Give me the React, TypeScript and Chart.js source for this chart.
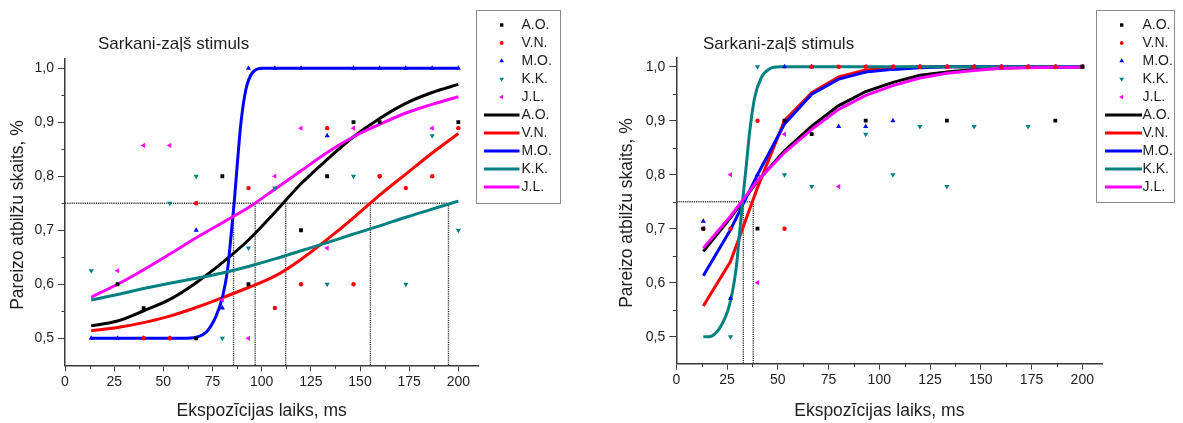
import React, { useEffect, useRef } from "react";
import { Chart, registerables } from "chart.js";
import { drawPoint } from "chart.js/helpers";

Chart.register(...registerables);

const FONT = "'Liberation Sans', Arial, sans-serif";
const TEXT_COLOR = "#1e1e1e";
const AXIS_COLOR = "#3a3a3a";

// ---------- shared ----------
const X_VALUES = [13.3, 26.7, 40, 53.3, 66.7, 80, 93.3, 106.7, 120, 133.3, 146.7, 160, 173.3, 186.7, 200];
const NAMES = ["A.O.", "V.N.", "M.O.", "K.K.", "J.L."];
const COLORS = ["#000000", "#ff0000", "#0000ff", "#008080", "#ff00ff"];
const POINT_STYLES = ["rect", "circle", "triangle", "triangle", "triangle"];
const POINT_ROTATIONS = [0, 0, 0, 180, -90];
const POINT_RADII = [2.7, 2.2, 3, 3, 3];
const X_TICK_STEP = 25;
const Y_TICK_STEP = 0.1;
const X_MIN = 0;
const X_MAX = 210;
const Y_MIN = 0.45;
const Y_MAX = 1.017;
const THRESHOLD_LEVEL = 0.75;
const TITLE = "Sarkani-zaļš stimuls";
const X_TITLE = "Ekspozīcijas laiks, ms";
const Y_TITLE = "Pareizo atbilžu skaits, %";

// ---------- left panel: observed ----------
const L_OBS_AO = [null, 0.6, 0.556, null, 0.5, 0.8, 0.6, null, 0.7, 0.8, 0.9, 0.9, null, null, 0.9];
const L_OBS_VN = [null, null, 0.5, 0.5, 0.75, null, 0.778, 0.556, 0.6, 0.889, 0.6, 0.8, 0.778, 0.8, 0.889];
const L_OBS_MO = [0.5, 0.5, 0.5, 0.5, 0.7, 0.556, 1.0, 1.0, 1.0, 0.875, 1.0, 1.0, 1.0, 1.0, 1.0];
const L_OBS_KK = [0.625, null, null, 0.75, 0.8, 0.5, 0.667, 0.778, null, 0.6, 0.8, 0.8, 0.6, 0.875, 0.7];
const L_OBS_JL = [null, 0.625, 0.857, 0.857, 0.75, 0.571, 0.5, 0.8, 0.889, 0.667, 0.889, null, null, 0.889, null];

// ---------- left panel: fitted curves ----------
const L_FIT_AO = [0.523, 0.532, 0.551, 0.572, 0.603, 0.64, 0.682, 0.733, 0.786, 0.831, 0.873, 0.907, 0.935, 0.955, 0.97];
const L_FIT_VN = [0.514, 0.52, 0.529, 0.541, 0.557, 0.575, 0.594, 0.615, 0.646, 0.683, 0.723, 0.765, 0.804, 0.843, 0.879];
const L_FIT_MO_X = [13.3, 40, 60, 66.7, 72, 76.8, 80.2, 82.7, 84.4, 86, 87.8, 89.5, 92, 95.4, 100.4, 120, 200];
const L_FIT_MO_Y = [0.5, 0.5, 0.5, 0.502, 0.512, 0.541, 0.578, 0.628, 0.689, 0.75, 0.831, 0.9, 0.961, 0.992, 1.0, 1.0, 1.0];
const L_FIT_KK = [0.571, 0.581, 0.592, 0.602, 0.611, 0.621, 0.633, 0.647, 0.662, 0.677, 0.693, 0.708, 0.724, 0.739, 0.754];
const L_FIT_JL = [0.576, 0.6, 0.627, 0.656, 0.686, 0.714, 0.742, 0.776, 0.81, 0.844, 0.873, 0.896, 0.917, 0.933, 0.947];
const L_THRESHOLDS = [85.7, 96.7, 112.2, 155.3, 195];

// ---------- right panel: observed ----------
const R_OBS_AO = [0.7, null, 0.7, 0.9, 0.875, null, 0.9, null, null, 0.9, null, null, null, 0.9, 1.0];
const R_OBS_VN = [0.7, 0.7, 0.9, 0.7, 1.0, 1.0, 1.0, 1.0, 1.0, 1.0, 1.0, 1.0, 1.0, 1.0, 1.0];
const R_OBS_MO = [0.714, 0.571, 0.8, 1.0, 1.0, 0.889, 0.889, 0.9, 1.0, 1.0, 1.0, 1.0, 1.0, 1.0, 1.0];
const R_OBS_KK = [null, 0.5, 1.0, 0.8, 0.778, null, 0.875, 0.8, 0.889, 0.778, 0.889, null, 0.889, null, 1.0];
const R_OBS_JL = [0.7, 0.8, 0.6, 0.875, null, 0.778, 1.0, 1.0, 1.0, 1.0, 1.0, 1.0, 1.0, 1.0, 1.0];

// ---------- right panel: fitted curves ----------
const R_FIT_AO = [0.658, 0.72, 0.788, 0.844, 0.89, 0.928, 0.954, 0.971, 0.984, 0.99, 0.995, 0.997, 0.999, 0.999, 1.0];
const R_FIT_VN = [0.557, 0.639, 0.776, 0.9, 0.952, 0.981, 0.994, 0.998, 1.0, 1.0, 1.0, 1.0, 1.0, 1.0, 1.0];
const R_FIT_MO = [0.613, 0.698, 0.8, 0.894, 0.949, 0.977, 0.99, 0.995, 0.998, 1.0, 1.0, 1.0, 1.0, 1.0, 1.0];
const R_FIT_KK_X = [13.3, 16, 21.2, 26.2, 29.5, 31.1, 32.5, 34.2, 36.2, 38.6, 41.9, 46, 51, 200];
const R_FIT_KK_Y = [0.5, 0.5, 0.515, 0.559, 0.627, 0.689, 0.745, 0.807, 0.881, 0.943, 0.98, 0.996, 1.0, 1.0];
const R_FIT_JL = [0.664, 0.723, 0.789, 0.841, 0.884, 0.921, 0.947, 0.965, 0.979, 0.988, 0.993, 0.997, 0.998, 0.999, 0.999];
const R_THRESHOLDS = [33.0, 37.9];

const HEIGHT = 423;

type Area = { left: number; right: number; top: number; bottom: number };

const zip = (xs: number[], ys: (number | null)[]) =>
  xs.map((x, i) => ({ x, y: ys[i] })).filter((p) => p.y !== null);

// ---------- plugins ----------
const minorTicksPlugin = {
  id: "minorTicks",
  afterDraw(chart: any, _a: any, opts: any) {
    const { ctx } = chart;
    const xs = chart.scales.x;
    const ys = chart.scales.y;
    const area = chart.chartArea;
    ctx.save();
    ctx.strokeStyle = AXIS_COLOR;
    ctx.lineWidth = 1;
    ctx.beginPath();
    for (let i = 0; i < xs.ticks.length - 1; i++) {
      const v = (xs.ticks[i].value + xs.ticks[i + 1].value) / 2;
      const px = Math.round(xs.getPixelForValue(v)) + 0.5;
      ctx.moveTo(px, area.bottom);
      ctx.lineTo(px, area.bottom + opts.len);
    }
    for (let i = 0; i < ys.ticks.length - 1; i++) {
      const v = (ys.ticks[i].value + ys.ticks[i + 1].value) / 2;
      const py = Math.round(ys.getPixelForValue(v)) + 0.5;
      ctx.moveTo(area.left, py);
      ctx.lineTo(area.left - opts.len, py);
    }
    ctx.stroke();
    ctx.restore();
  },
};

const panelTextPlugin = {
  id: "panelText",
  afterDraw(chart: any, _a: any, opts: any) {
    const { ctx } = chart;
    const xs = chart.scales.x;
    ctx.save();
    ctx.fillStyle = TEXT_COLOR;
    ctx.textBaseline = "middle";
    ctx.font = `${opts.titleSize}px ${FONT}`;
    ctx.textAlign = "left";
    ctx.fillText(opts.title, opts.titleX, opts.titleY);
    ctx.font = `${opts.axisSize}px ${FONT}`;
    ctx.textAlign = "center";
    ctx.fillText(opts.xTitle, xs.getPixelForValue(opts.xTitleCenter), opts.xTitleY);
    ctx.translate(opts.yTitleX, opts.yTitleY);
    ctx.rotate(-Math.PI / 2);
    ctx.fillText(opts.yTitle, 0, 0);
    ctx.restore();
  },
};

const boxLegendPlugin = {
  id: "boxLegend",
  afterDraw(chart: any, _a: any, o: any) {
    const { ctx } = chart;
    ctx.save();
    ctx.fillStyle = "#ffffff";
    ctx.fillRect(o.x, o.y, o.w, o.h);
    ctx.strokeStyle = "#8a8a8a";
    ctx.lineWidth = 1;
    ctx.strokeRect(o.x + 0.5, o.y + 0.5, o.w, o.h);
    const items = chart.data.datasets.filter((d: any) => d.legendLabel);
    items.forEach((d: any, i: number) => {
      const cy = o.y + o.firstRow + i * o.rowH;
      if (d.showLine) {
        ctx.strokeStyle = d.borderColor;
        ctx.lineWidth = d.borderWidth;
        ctx.beginPath();
        ctx.moveTo(o.lineX1, cy);
        ctx.lineTo(o.lineX2, cy);
        ctx.stroke();
      } else {
        ctx.fillStyle = d.backgroundColor;
        ctx.strokeStyle = d.backgroundColor;
        drawPoint(
          ctx,
          { pointStyle: d.pointStyle, rotation: d.pointRotation, radius: d.pointRadius - 0.3, borderWidth: 0 } as any,
          o.markerX,
          cy
        );
      }
      ctx.fillStyle = TEXT_COLOR;
      ctx.font = `${o.fontSize}px ${FONT}`;
      ctx.textAlign = "left";
      ctx.textBaseline = "middle";
      ctx.fillText(d.legendLabel, o.textX, cy + 0.5);
    });
    ctx.restore();
  },
};

type PanelDef = {
  left: number;
  width: number;
  area: Area;
  observed: (number | null)[][];
  fits: { x: number[]; y: number[]; smooth: boolean }[];
  thresholds: number[];
  text: any;
  legend: any;
};

const PANELS: PanelDef[] = [
  {
    left: 0,
    width: 590,
    area: { left: 65, right: 478, top: 59, bottom: 365.3 },
    observed: [L_OBS_AO, L_OBS_VN, L_OBS_MO, L_OBS_KK, L_OBS_JL],
    fits: [
      { x: X_VALUES, y: L_FIT_AO, smooth: true },
      { x: X_VALUES, y: L_FIT_VN, smooth: true },
      { x: L_FIT_MO_X, y: L_FIT_MO_Y, smooth: true },
      { x: X_VALUES, y: L_FIT_KK, smooth: true },
      { x: X_VALUES, y: L_FIT_JL, smooth: true },
    ],
    thresholds: L_THRESHOLDS,
    text: { titleX: 98, titleY: 44, yTitleX: 18, yTitleY: 215, xTitleY: 411.5 },
    legend: { x: 476, y: 10, w: 84, h: 193, firstRow: 15, rowH: 18, markerX: 501.7, lineX1: 484, lineX2: 519.5, textX: 521.5 },
  },
  {
    left: 590,
    width: 593,
    area: { left: 86.3, right: 512.6, top: 57.5, bottom: 363.7 },
    observed: [R_OBS_AO, R_OBS_VN, R_OBS_MO, R_OBS_KK, R_OBS_JL],
    fits: [
      { x: X_VALUES, y: R_FIT_AO, smooth: false },
      { x: X_VALUES, y: R_FIT_VN, smooth: false },
      { x: X_VALUES, y: R_FIT_MO, smooth: false },
      { x: R_FIT_KK_X, y: R_FIT_KK_Y, smooth: true },
      { x: X_VALUES, y: R_FIT_JL, smooth: false },
    ],
    thresholds: R_THRESHOLDS,
    text: { titleX: 113, titleY: 44, yTitleX: 37, yTitleY: 213, xTitleY: 411.5 },
    legend: { x: 506, y: 10, w: 78, h: 192, firstRow: 15, rowH: 18, markerX: 531.7, lineX1: 515, lineX2: 552, textX: 552.5 },
  },
];

const LINE_ORDER = [5, 4, 3, 2, 1]; // J.L. drawn on top

function buildConfig(p: PanelDef): any {
  const datasets: any[] = [];
  p.observed.forEach((vals, i) => {
    datasets.push({
      legendLabel: NAMES[i],
      data: zip(X_VALUES, vals),
      showLine: false,
      pointStyle: POINT_STYLES[i],
      pointRotation: POINT_ROTATIONS[i],
      pointRadius: POINT_RADII[i],
      pointBorderWidth: 0,
      backgroundColor: COLORS[i],
      borderColor: COLORS[i],
      order: 0,
    });
  });
  p.fits.forEach((f, i) => {
    datasets.push({
      legendLabel: NAMES[i],
      data: zip(f.x, f.y),
      showLine: true,
      pointRadius: 0,
      borderColor: COLORS[i],
      backgroundColor: COLORS[i],
      borderWidth: 3,
      cubicInterpolationMode: f.smooth ? "monotone" : "default",
      tension: 0,
      order: LINE_ORDER[i],
    });
  });
  const maxT = Math.max(...p.thresholds);
  const refLines = [
    [
      { x: X_MIN, y: THRESHOLD_LEVEL },
      { x: maxT, y: THRESHOLD_LEVEL },
    ],
    ...p.thresholds.map((t) => [
      { x: t, y: THRESHOLD_LEVEL },
      { x: t, y: Y_MIN },
    ]),
  ];
  refLines.forEach((d) => {
    datasets.push({
      data: d,
      showLine: true,
      pointRadius: 0,
      borderColor: "#333333",
      borderWidth: 1.4,
      borderDash: [1.2, 1],
      order: 10,
    });
  });

  const tickFont = { family: FONT, size: 14 };
  return {
    type: "scatter",
    data: { datasets },
    options: {
      responsive: false,
      animation: false,
      devicePixelRatio: 1,
      events: [],
      layout: { padding: { left: 0, top: p.area.top, right: p.width - p.area.right, bottom: 0 } },
      plugins: {
        legend: { display: false },
        tooltip: { enabled: false },
        minorTicks: { len: 3.5 },
        panelText: {
          title: TITLE,
          titleSize: 17,
          titleX: p.text.titleX,
          titleY: p.text.titleY,
          axisSize: 17.5,
          xTitle: X_TITLE,
          xTitleCenter: 100,
          xTitleY: p.text.xTitleY,
          yTitle: Y_TITLE,
          yTitleX: p.text.yTitleX,
          yTitleY: p.text.yTitleY,
        },
        boxLegend: { ...p.legend, fontSize: 14 },
      },
      scales: {
        x: {
          type: "linear",
          min: X_MIN,
          max: X_MAX,
          afterFit: (s: any) => {
            s.height = HEIGHT - p.area.bottom;
          },
          ticks: {
            stepSize: X_TICK_STEP,
            includeBounds: false,
            font: tickFont,
            color: TEXT_COLOR,
            padding: 2,
            maxRotation: 0,
          },
          grid: { display: true, drawOnChartArea: false, drawTicks: true, tickLength: 6, tickColor: AXIS_COLOR, tickWidth: 1 },
          border: { display: true, color: AXIS_COLOR, width: 1.5 },
        },
        y: {
          type: "linear",
          min: Y_MIN,
          max: Y_MAX,
          afterFit: (s: any) => {
            s.width = p.area.left;
          },
          ticks: {
            stepSize: Y_TICK_STEP,
            includeBounds: false,
            font: tickFont,
            color: TEXT_COLOR,
            padding: 4,
            callback: (v: number) => v.toFixed(1).replace(".", ","),
          },
          grid: { display: true, drawOnChartArea: false, drawTicks: true, tickLength: 7, tickColor: AXIS_COLOR, tickWidth: 1 },
          border: { display: true, color: AXIS_COLOR, width: 1.5 },
        },
      },
    },
    plugins: [minorTicksPlugin, panelTextPlugin, boxLegendPlugin],
  };
}

function Panel({ def }: { def: PanelDef }) {
  const ref = useRef<HTMLCanvasElement>(null);
  useEffect(() => {
    const chart = new Chart(ref.current as HTMLCanvasElement, buildConfig(def));
    return () => chart.destroy();
  }, [def]);
  return (
    <canvas
      ref={ref}
      width={def.width}
      height={HEIGHT}
      style={{ position: "absolute", left: def.left, top: 0, width: def.width, height: HEIGHT }}
    />
  );
}

export default function App() {
  return (
    <div style={{ position: "absolute", left: 0, top: 0, width: 1183, height: HEIGHT, background: "#fff", overflow: "hidden" }}>
      {PANELS.map((p, i) => (
        <Panel key={i} def={p} />
      ))}
    </div>
  );
}
